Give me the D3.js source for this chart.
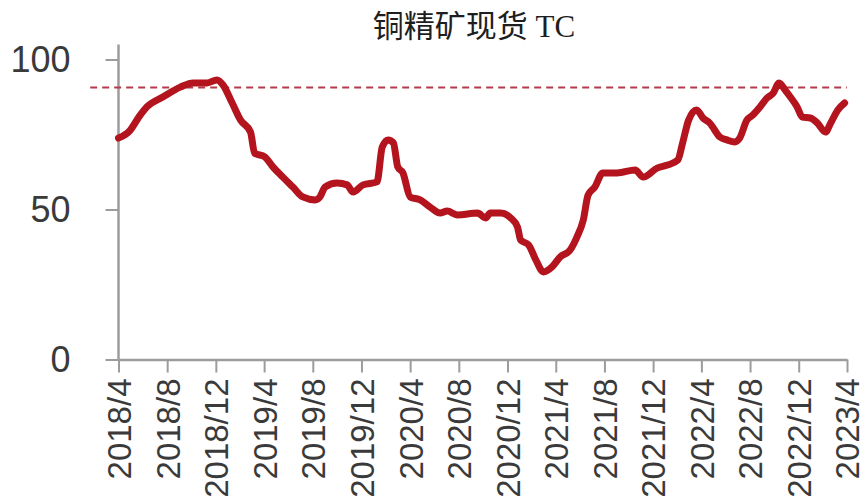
<!DOCTYPE html>
<html>
<head>
<meta charset="utf-8">
<script src="https://cdn.jsdelivr.net/npm/d3@7/dist/d3.min.js"></script>
<style>
  html, body { margin: 0; padding: 0; background: #ffffff; }
  svg { display: block; }
</style>
</head>
<body>
<div id="chart"></div>
<script>
// Spot treatment charge (TC) for copper concentrate, USD/t
const dates = [
  "2018-04-01","2018-04-29","2018-05-24","2018-06-11","2018-07-21","2018-09-03","2018-10-05","2018-11-09",
  "2018-12-04","2018-12-19","2019-01-11","2019-02-01","2019-02-26","2019-03-08","2019-04-03","2019-04-23",
  "2019-05-18","2019-06-12","2019-07-07","2019-08-07","2019-08-19","2019-09-01","2019-10-01","2019-10-26",
  "2019-11-10","2019-12-05","2020-01-09","2020-01-22","2020-02-06","2020-02-19","2020-03-01","2020-03-14",
  "2020-04-01","2020-04-26","2020-05-21","2020-06-15","2020-07-03","2020-07-28","2020-09-17","2020-10-07",
  "2020-10-19","2020-11-14","2020-12-09","2020-12-26","2021-01-03","2021-01-23","2021-02-10","2021-03-01",
  "2021-03-22","2021-04-12","2021-05-07","2021-05-24","2021-06-09","2021-06-21","2021-07-08","2021-07-28",
  "2021-09-02","2021-10-17","2021-11-06","2021-12-11","2022-01-06","2022-02-01","2022-02-13","2022-02-28",
  "2022-03-20","2022-04-05","2022-04-22","2022-05-17","2022-06-04","2022-06-24","2022-07-06","2022-07-24",
  "2022-08-08","2022-08-26","2022-09-13","2022-09-28","2022-10-13","2022-10-28","2022-11-10","2022-11-27",
  "2022-12-10","2022-12-30","2023-01-17","2023-02-06","2023-02-19","2023-03-09","2023-03-26"
];
const tcValues = [
  73.8, 76.2, 81.2, 84.2, 87.5, 90.8, 92.2, 92.2,
  93.2, 91.5, 85.5, 79.8, 75.8, 68.8, 67.5, 64.2,
  60.8, 57.5, 54.2, 53.2, 54.2, 57.5, 58.8, 58.2,
  55.8, 58.2, 59.2, 70.8, 73.2, 72.2, 64.2, 62.2,
  54.2, 53.2, 50.8, 48.8, 49.5, 48.2, 48.8, 47.2,
  48.8, 48.8, 47.2, 44.2, 39.8, 38.2, 33.2, 29.2,
  30.8, 34.2, 36.5, 40.8, 46.5, 54.8, 57.5, 62.2,
  62.2, 63.2, 60.8, 63.8, 64.8, 66.5, 72.2, 79.8,
  83.2, 80.5, 78.8, 74.2, 73.2, 72.5, 73.8, 79.8,
  81.5, 84.2, 87.2, 88.8, 92.2, 89.8, 87.5, 84.2,
  80.8, 80.5, 78.8, 75.8, 78.8, 83.2, 85.5
];

// Reference level (dashed)
const refLevel = 90.7;
const refSpan = ["2018-01-20", "2023-04-01"];

// Axis ticks
const xTickDates = [
  "2018-04-01","2018-08-01","2018-12-01","2019-04-01","2019-08-01","2019-12-01",
  "2020-04-01","2020-08-01","2020-12-01","2021-04-01","2021-08-01","2021-12-01",
  "2022-04-01","2022-08-01","2022-12-01","2023-04-01"
];
const yTicks = [0, 50, 100];
const yAxisTop = 105;

const title = "铜精矿现货 TC";

const W = 866, H = 502;
const parse = d3.timeParse("%Y-%m-%d");
const series = dates.map((d, i) => ({ date: parse(d), value: tcValues[i] }));

const x = d3.scaleTime()
  .domain([parse("2018-04-01"), parse("2023-04-01")])
  .range([118.5, 847]);
const y = d3.scaleLinear()
  .domain([0, 100])
  .range([359.5, 59.5]);

const svg = d3.select("#chart").append("svg")
  .attr("width", W).attr("height", H)
  .style("background", "#ffffff");

// Title
svg.append("text")
  .attr("x", 474).attr("y", 37)
  .attr("text-anchor", "middle")
  .style("font-family", "'Liberation Serif', 'Noto Sans CJK SC', serif")
  .style("font-size", "31px")
  .style("fill", "#1e1e1e")
  .text(title);

const axisColor = "#9c9c9c";
const labelFont = "'Liberation Sans', Arial, sans-serif";

// X axis
const xAxis = d3.axisBottom(x)
  .tickValues(xTickDates.map(parse))
  .tickSize(13)
  .tickSizeOuter(0)
  .tickFormat(d3.timeFormat("%Y/%-m"));

const gx = svg.append("g")
  .attr("transform", `translate(0,${y(0)})`)
  .call(xAxis);
gx.select(".domain").attr("stroke", axisColor).attr("stroke-width", 2.5);
gx.selectAll(".tick line").attr("stroke", axisColor).attr("stroke-width", 2);
gx.selectAll(".tick text")
  .attr("transform", "translate(0,19) rotate(-90)")
  .attr("text-anchor", "end")
  .attr("x", 0).attr("y", 0)
  .attr("dy", "0.36em")
  .style("font-family", labelFont)
  .style("font-size", "33px")
  .style("fill", "#3a3a3a");

// Y axis
const yAxis = d3.axisLeft(y)
  .tickValues(yTicks)
  .tickSize(13)
  .tickSizeOuter(0)
  .tickPadding(35);

const gy = svg.append("g")
  .attr("transform", `translate(${x.range()[0]},0)`)
  .call(yAxis);
gy.select(".domain").remove();
gy.append("line")
  .attr("x1", 0).attr("x2", 0)
  .attr("y1", y(0)).attr("y2", y(yAxisTop))
  .attr("stroke", axisColor).attr("stroke-width", 2.5);
gy.selectAll(".tick line").attr("stroke", axisColor).attr("stroke-width", 2);
gy.selectAll(".tick text")
  .style("font-family", labelFont)
  .style("font-size", "36px")
  .style("fill", "#3a3a3a");

// Dashed reference line
svg.append("line")
  .attr("x1", x(parse(refSpan[0]))).attr("x2", x(parse(refSpan[1])))
  .attr("y1", y(refLevel)).attr("y2", y(refLevel))
  .attr("stroke", "#b43a4c")
  .attr("stroke-width", 2)
  .attr("stroke-dasharray", "7,5");

// TC series
const line = d3.line()
  .x(d => x(d.date))
  .y(d => y(d.value))
  .curve(d3.curveMonotoneX);

svg.append("path")
  .datum(series)
  .attr("fill", "none")
  .attr("stroke", "#b3141e")
  .attr("stroke-width", 7)
  .attr("stroke-linejoin", "round")
  .attr("stroke-linecap", "round")
  .attr("d", line);
</script>
</body>
</html>
